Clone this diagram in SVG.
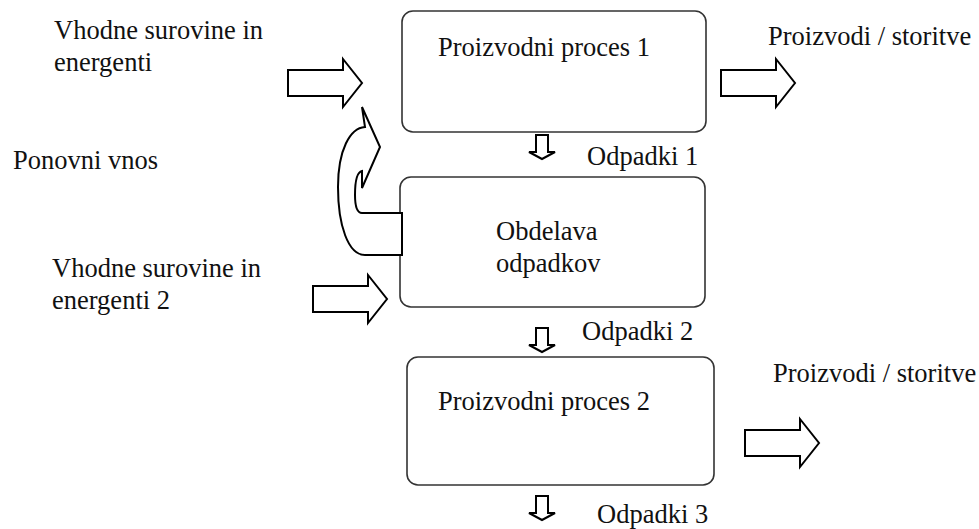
<svg xmlns="http://www.w3.org/2000/svg" xmlns:xlink="http://www.w3.org/1999/xlink" width="979" height="529" viewBox="0 0 979 529">
  <style>
    .box { fill: #ffffff; stroke: #333333; stroke-width: 1.6; }
    .arrow { fill: #ffffff; stroke: #000000; stroke-width: 2; stroke-linejoin: miter; }
    .lbl { font-size: 26.5px; fill: #111111; }
  </style>
  <defs>
    <!-- wide block arrow pointing right, tip at origin -->
    <path id="blockArrow" d="M -74,-13 L -19,-13 L -19,-24 L 0,0 L -19,24 L -19,13 L -74,13 Z"/>
    <!-- small block arrow pointing down, tip at origin -->
    <path id="downArrow" d="M -6,-24 L 6,-24 L 6,-7 L 13,-7 L 0,0 L -13,-7 L -6,-7 Z"/>
  </defs>

  <g font-family="'Liberation Serif', 'DejaVu Serif', 'Times New Roman', serif">
  <!-- free labels -->
  <g id="inputs1">
    <text class="lbl" x="54" y="39">Vhodne surovine in</text>
    <text class="lbl" x="54" y="71">energenti</text>
  </g>
  <g id="reinput-label">
    <text class="lbl" x="13" y="169">Ponovni vnos</text>
  </g>
  <g id="inputs2">
    <text class="lbl" x="52" y="277">Vhodne surovine in</text>
    <text class="lbl" x="52" y="309">energenti 2</text>
  </g>
  <g id="products1">
    <text class="lbl" x="768" y="45">Proizvodi / storitve</text>
  </g>
  <g id="products2">
    <text class="lbl" x="773" y="382">Proizvodi / storitve</text>
  </g>
  <g id="waste1"><text class="lbl" x="587" y="165">Odpadki 1</text></g>
  <g id="waste2"><text class="lbl" x="582" y="340">Odpadki 2</text></g>
  <g id="waste3"><text class="lbl" x="597" y="523">Odpadki 3</text></g>

  <!-- process boxes -->
  <g id="process1">
    <rect class="box" x="402" y="11" width="304" height="121" rx="11"/>
    <text class="lbl" x="438" y="56">Proizvodni proces 1</text>
  </g>
  <g id="treatment">
    <rect class="box" x="400" y="177" width="305" height="130" rx="11"/>
    <text class="lbl" x="496" y="240">Obdelava</text>
    <text class="lbl" x="496" y="272">odpadkov</text>
  </g>
  <g id="process2">
    <rect class="box" x="407" y="357" width="307" height="128" rx="11"/>
    <text class="lbl" x="438" y="410">Proizvodni proces 2</text>
  </g>
  </g>

  <!-- connectors -->
  <g id="connectors">
    <use xlink:href="#blockArrow" class="arrow" transform="translate(362,83)"/>
    <use xlink:href="#blockArrow" class="arrow" transform="translate(795,83)"/>
    <use xlink:href="#blockArrow" class="arrow" transform="translate(387,299)"/>
    <use xlink:href="#blockArrow" class="arrow" transform="translate(819,443)"/>
    <use xlink:href="#downArrow" class="arrow" transform="translate(542,159)"/>
    <use xlink:href="#downArrow" class="arrow" transform="translate(542,352)"/>
    <use xlink:href="#downArrow" class="arrow" transform="translate(542,520)"/>
    <!-- curved return arrow from waste treatment -->
    <path class="arrow" d="M 402,213 L 362,213 C 357,213 355,205 355,195 C 355,182 357,172 362,171 L 362,188 L 380,147 L 362,107 L 365,127 C 350,128 338,150 338,187 C 338,225 348,255 365,255 L 402,255 Z"/>
  </g>
</svg>
